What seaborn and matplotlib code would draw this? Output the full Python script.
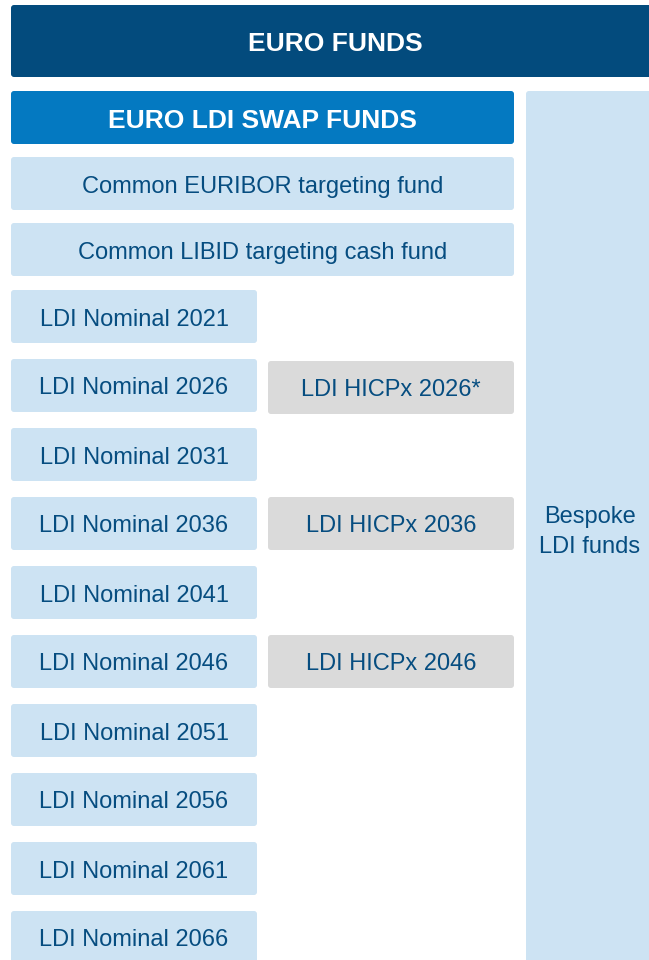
import matplotlib.pyplot as plt
import seaborn as sns
from matplotlib.patches import FancyBboxPatch

sns.set_theme(style="white")
plt.rcParams["font.family"] = ["Liberation Sans", "DejaVu Sans"]

# Chart content
header_title = "EURO FUNDS"
swap_title = "EURO LDI SWAP FUNDS"
common_funds = ["Common EURIBOR targeting fund", "Common LIBID targeting cash fund"]
nominal_years = [2021, 2026, 2031, 2036, 2041, 2046, 2051, 2056, 2061, 2066]
hicpx_funds = {2026: "LDI HICPx 2026*", 2036: "LDI HICPx 2036", 2046: "LDI HICPx 2046"}
bespoke_label = "Bespoke\nLDI funds"

# Colours
NAVY = "#034B7D"
BLUE = "#0479C1"
LIGHT = "#CDE3F3"
GREY = "#DADADA"
TEXT = "#064D80"

W, H = 649, 960
LEFT, COL_W, COL2_X, MAIN_R, SIDE_X = 11, 246, 268, 514, 526
BOX_H, ROW_STEP = 53, 69


def box(ax, x, y, w, h, color, label=None, text_color=TEXT, size=17, weight="normal"):
    patch = FancyBboxPatch(
        (x, y), w, h,
        boxstyle="round,pad=0,rounding_size=3",
        facecolor=color, edgecolor="none",
    )
    ax.add_patch(patch)
    if label:
        ax.text(x + w / 2, y + h / 2 + 3, label, ha="center", va="center",
                color=text_color, fontsize=size, fontweight=weight)


fig = plt.figure(figsize=(W / 100, H / 100), dpi=100)
ax = fig.add_axes([0, 0, 1, 1])
ax.set_xlim(0, W)
ax.set_ylim(H, 0)
ax.axis("off")

# top banner and bespoke column
box(ax, LEFT, 5, W + 10 - LEFT, 72, NAVY, header_title, "white", 19, "bold")
box(ax, SIDE_X, 91, W + 10 - SIDE_X, H + 20 - 91, LIGHT)
ax.text((SIDE_X + W) / 2 + 2, 532, bespoke_label, ha="center", va="center",
        color=TEXT, fontsize=17, linespacing=1.45)

# swap funds header + common funds
box(ax, LEFT, 91, MAIN_R - LEFT, BOX_H, BLUE, swap_title, "white", 19, "bold")
for i, name in enumerate(common_funds):
    box(ax, LEFT, 157 + i * 66, MAIN_R - LEFT, BOX_H, LIGHT, name)

# nominal ladder and HICPx funds
for i, year in enumerate(nominal_years):
    top = 290 + i * ROW_STEP
    box(ax, LEFT, top, COL_W, BOX_H, LIGHT, f"LDI Nominal {year}")
    if year in hicpx_funds:
        box(ax, COL2_X, top + (2 if i == 1 else 0), MAIN_R - COL2_X, BOX_H, GREY,
            hicpx_funds[year])

fig.savefig("out.png", dpi=100)
